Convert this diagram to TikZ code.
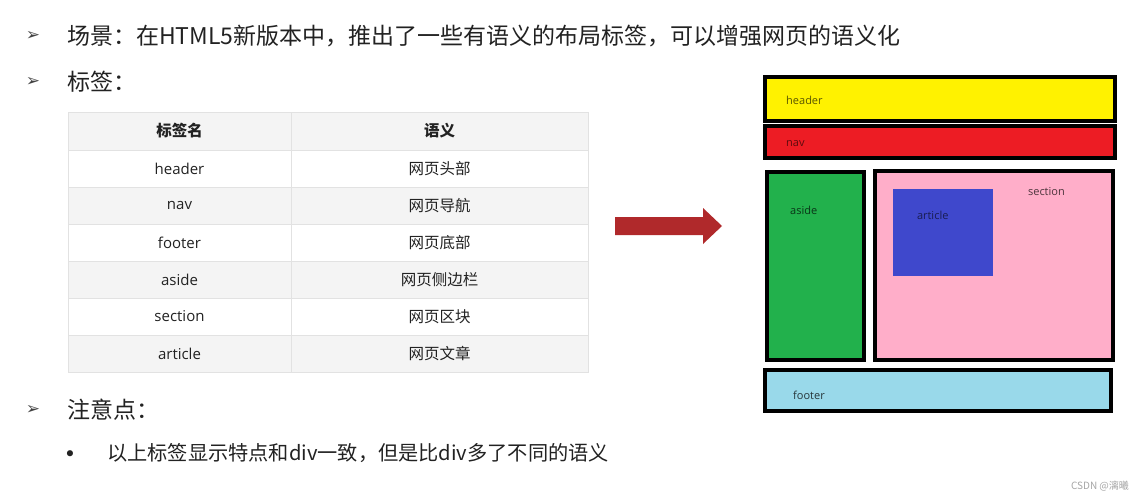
\documentclass[tikz,border=0pt]{standalone}
\usepackage{fontspec}
\setmainfont{Noto Sans CJK SC}
\newfontfamily\symfont{DejaVu Sans}
\newfontfamily\latinfont{Open Sans}
\usetikzlibrary{positioning}
\definecolor{txtdark}{HTML}{222222}
\definecolor{gridgray}{HTML}{E2E2E2}
\definecolor{rowgray}{HTML}{F4F4F4}
\definecolor{arrowred}{HTML}{B0292B}
\definecolor{hdryellow}{HTML}{FFF200}
\definecolor{navred}{HTML}{ED1C24}
\definecolor{asidegreen}{HTML}{22B14C}
\definecolor{sectionpink}{HTML}{FFAEC9}
\definecolor{articleblue}{HTML}{3F48CC}
\definecolor{footerblue}{HTML}{99D9EA}
\tikzset{
pointtext/.style={anchor=west, inner sep=0pt, text=txtdark,
font=\fontsize{23}{23}\selectfont},
arrowmark/.style={inner sep=0pt, text=txtdark!85,
font=\symfont\fontsize{17}{17}\selectfont},
namecell/.style={draw=gridgray, minimum width=223, minimum height=37,
inner sep=0pt, text=txtdark, font=\latinfont\fontsize{15}{15}\selectfont},
meancell/.style={draw=gridgray, minimum width=297, minimum height=37,
inner sep=0pt, text=txtdark, font=\fontsize{15.5}{15.5}\selectfont},
layoutbox/.style={draw=black, line width=4pt, inner sep=0pt},
boxlabel/.style={inner sep=0pt, font=\latinfont\fontsize{11}{11}\selectfont}
}
\begin{document}
\begin{tikzpicture}[x=1pt, y=-1pt]
\useasboundingbox[fill=white] (0,0) rectangle (1143,500);
\node[arrowmark] (m1) at (33,36) {➢};
\node[pointtext] (p1) at (67,36) {场景：在HTML5新版本中，推出了一些有语义的布局标签，可以增强网页的语义化};
\node[arrowmark] (m2) at (33,82) {➢};
\node[pointtext] (p2) at (67,82) {标签：};
\node[namecell, fill=rowgray, minimum height=38, font=\bfseries\fontsize{15.5}{15.5}\selectfont] (h1) at (179.5,131) {标签名};
\node[meancell, fill=rowgray, minimum height=38, font=\bfseries\fontsize{15.5}{15.5}\selectfont] (h2) at (439.5,131) {语义};
\foreach \tagname/\sense/\rowfill [count=\i] in {header/网页头部/white, nav/网页导航/rowgray, footer/网页底部/white, aside/网页侧边栏/rowgray, section/网页区块/white, article/网页文章/rowgray}{
\node[namecell, fill=\rowfill] (n\i) at (179.5,{150+37*(\i-0.5)}) {\tagname};
\node[meancell, fill=\rowfill] (s\i) at (439.5,{150+37*(\i-0.5)}) {\sense};
}
\node[arrowmark] (m3) at (33,410) {➢};
\node[pointtext] (p3) at (67,410) {注意点：};
\node[inner sep=0pt, text=txtdark, font=\symfont\fontsize{21}{21}\selectfont] (m4) at (70,456) {•};
\node[pointtext, font=\fontsize{20.2}{20.2}\selectfont] (p4) at (107,453) {以上标签显示特点和div一致，但是比div多了不同的语义};
\fill[arrowred] (615,217) -- (703,217) -- (703,208) -- (722,226) -- (703,244) -- (703,235) -- (615,235) -- cycle;
\node[layoutbox, fill=hdryellow, minimum width=350, minimum height=44] (header) at (940,99) {};
\node[boxlabel, text=hdryellow!35!black, right=23pt of header.west, yshift=-1.5pt] (headerlabel) {header};
\node[layoutbox, fill=navred, minimum width=350, minimum height=32] (nav) at (940,142) {};
\node[boxlabel, text=navred!40!black, right=23pt of nav.west, yshift=-1.5pt] (navlabel) {nav};
\node[layoutbox, fill=asidegreen, minimum width=97, minimum height=188] (aside) at (815.5,266) {};
\node[boxlabel, text=asidegreen!30!black, below right=36pt and 25pt of aside.north west] (asidelabel) {aside};
\node[layoutbox, fill=sectionpink, minimum width=238, minimum height=189] (section) at (994,265.5) {};
\node[boxlabel, text=sectionpink!30!black, below left=18pt and 50pt of section.north east] (sectionlabel) {section};
\node[fill=articleblue, inner sep=0pt, minimum width=100, minimum height=87] (article) at (943,232.5) {};
\node[boxlabel, text=articleblue!40!black, below right=22pt and 24pt of article.north west] (articlelabel) {article};
\node[layoutbox, fill=footerblue, minimum width=346, minimum height=41] (footer) at (938,390.5) {};
\node[boxlabel, text=footerblue!25!black, right=30pt of footer.west, yshift=-5pt] (footerlabel) {footer};
\node[inner sep=0pt, text=black!35, font=\fontsize{10}{10}\selectfont] (mark) at (1100,486) {CSDN @漓曦};
\end{tikzpicture}
\end{document}
